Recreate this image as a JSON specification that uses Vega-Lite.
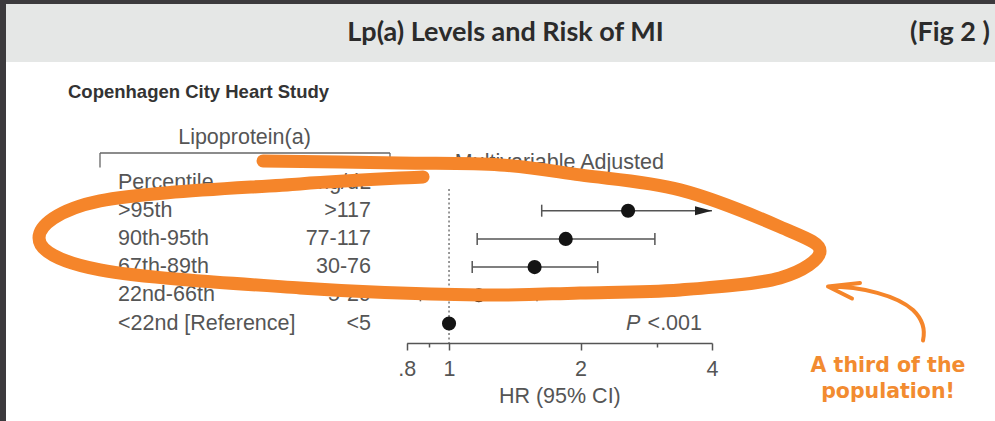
{
  "$schema": "https://vega.github.io/schema/vega-lite/v6.json",
  "background": "#3c3a3d",
  "padding": {"left": 6, "top": 4, "right": 0, "bottom": 0},
  "spacing": 0,
  "bounds": "flush",
  "config": {"view": {"stroke": null}},
  "vconcat": [
    {
      "width": 989,
      "height": 58,
      "view": {"fill": "#e5e7e6", "stroke": null},
      "data": {"values": [{}]},
      "layer": [
        {"mark": {"type": "text", "text": "Lp(a) Levels and Risk of MI", "font": "Lato", "fontWeight": "bold", "fontSize": 27, "fill": "#2b2b2b", "dx": 5}, "encoding": {}},
        {"mark": {"type": "text", "text": "(Fig 2 )", "font": "Lato", "fontWeight": "bold", "fontSize": 27, "fill": "#2b2b2b", "align": "right", "x": "width", "dx": -5}, "encoding": {}}
      ]
    },
    {
      "width": 989,
      "height": 359,
      "view": {"fill": "white", "stroke": null},
      "data": {"values": [
        {"pct": "Percentile", "mgdl": "mg/dL"},
        {"pct": ">95th", "mgdl": ">117", "hr": 2.57, "lo": 1.63, "hi": 4, "open": true},
        {"pct": "90th-95th", "mgdl": "77-117", "hr": 1.85, "lo": 1.16, "hi": 2.96, "open": false},
        {"pct": "67th-89th", "mgdl": "30-76", "hr": 1.57, "lo": 1.13, "hi": 2.19, "open": false},
        {"pct": "22nd-66th", "mgdl": "5-29", "hr": 1.17, "lo": 0.86, "hi": 1.59, "open": false},
        {"pct": "<22nd [Reference]", "mgdl": "<5", "hr": 1.0}
      ]},
      "resolve": {"scale": {"x": "independent"}},
      "layer": [
        {
          "layer": [
            {
              "mark": {"type": "text", "align": "left", "font": "Liberation Sans", "fontSize": 21.5, "fill": "#555555"},
              "encoding": {
                "x": {"datum": "Percentile", "type": "nominal", "bandPosition": 0, "axis": null,
                      "scale": {"type": "band", "domain": ["Percentile", "mg/dL"], "range": [112, 365], "paddingInner": 0, "paddingOuter": 0}},
                "y": {"field": "pct", "type": "nominal", "axis": null,
                      "scale": {"type": "point", "domain": ["Percentile", ">95th", "90th-95th", "67th-89th", "22nd-66th", "<22nd [Reference]"], "range": [120.5, 261.5], "padding": 0}},
                "text": {"field": "pct"}
              }
            },
            {
              "mark": {"type": "text", "align": "right", "font": "Liberation Sans", "fontSize": 21.5, "fill": "#555555"},
              "encoding": {
                "x": {"datum": "mg/dL", "type": "nominal", "bandPosition": 1, "axis": null},
                "y": {"field": "pct", "type": "nominal", "axis": null},
                "text": {"field": "mgdl"}
              }
            },
            {
              "data": {"values": [{}]},
              "mark": {"type": "text", "text": "Lipoprotein(a)", "align": "center", "dy": -44.5, "font": "Liberation Sans", "fontSize": 21.5, "fill": "#555555"},
              "encoding": {
                "x": {"datum": "Percentile", "type": "nominal", "bandPosition": 1, "axis": null},
                "y": {"datum": "Percentile", "type": "nominal", "axis": null}
              }
            },
            {
              "data": {"values": [{}]},
              "mark": {"type": "text", "text": "Copenhagen City Heart Study", "align": "left", "dx": -50, "dy": -90.5, "font": "Liberation Sans", "fontWeight": "bold", "fontSize": 18.5, "fill": "#333333"},
              "encoding": {
                "x": {"datum": "Percentile", "type": "nominal", "bandPosition": 0, "axis": null},
                "y": {"datum": "Percentile", "type": "nominal", "axis": null}
              }
            },
            {
              "data": {"values": [{}]},
              "mark": {"type": "rule", "stroke": "#666666", "strokeWidth": 1.3, "xOffset": -18, "x2Offset": 19, "yOffset": -29.5},
              "encoding": {
                "x": {"datum": "Percentile", "type": "nominal", "bandPosition": 0, "axis": null},
                "x2": {"datum": "mg/dL", "bandPosition": 1},
                "y": {"datum": "Percentile", "type": "nominal", "axis": null}
              }
            },
            {
              "data": {"values": [{}]},
              "mark": {"type": "rule", "stroke": "#666666", "strokeWidth": 1.3, "xOffset": -18, "yOffset": -29.5, "y2Offset": -15},
              "encoding": {
                "x": {"datum": "Percentile", "type": "nominal", "bandPosition": 0, "axis": null},
                "y": {"datum": "Percentile", "type": "nominal", "axis": null},
                "y2": {"datum": "Percentile"}
              }
            },
            {
              "data": {"values": [{}]},
              "mark": {"type": "rule", "stroke": "#666666", "strokeWidth": 1.3, "xOffset": 19, "yOffset": -29.5, "y2Offset": -15},
              "encoding": {
                "x": {"datum": "mg/dL", "type": "nominal", "bandPosition": 1, "axis": null},
                "y": {"datum": "Percentile", "type": "nominal", "axis": null},
                "y2": {"datum": "Percentile"}
              }
            }
          ]
        },
        {
          "layer": [
            {
              "data": {"values": [{}]},
              "mark": {"type": "rule", "stroke": "#777777", "strokeWidth": 1.5, "strokeDash": [2, 2.5], "yOffset": 6.5, "y2Offset": 19.5},
              "encoding": {
                "x": {"datum": 1, "type": "quantitative",
                      "scale": {"type": "log", "domain": [0.8, 4], "range": [400.7, 706], "nice": false, "zero": false},
                      "axis": {
                        "title": "HR (95% CI)", "orient": "bottom", "offset": -78, "grid": false,
                        "values": [0.8, 0.9, 1, 2, 3, 4],
                        "labelExpr": "datum.value === 0.8 ? '.8' : ((datum.value === 0.9 || datum.value === 3) ? '' : format(datum.value, 'd'))",
                        "domainColor": "#555555", "domainWidth": 1.5,
                        "tickColor": "#555555", "tickWidth": 1.5,
                        "tickSize": {"condition": {"test": "datum.value === 0.9 || datum.value === 3", "value": 4}, "value": 7},
                        "labelFont": "Liberation Sans", "labelFontSize": 21.5, "labelColor": "#555555", "labelPadding": 8,
                        "labelFlush": false, "labelOverlap": false,
                        "titleFont": "Liberation Sans", "titleFontSize": 21.5, "titleFontWeight": "normal", "titleColor": "#555555", "titlePadding": 6
                      }},
                "y": {"datum": "Percentile", "type": "nominal", "axis": null,
                      "scale": {"type": "point", "domain": ["Percentile", ">95th", "90th-95th", "67th-89th", "22nd-66th", "<22nd [Reference]"], "range": [120.5, 261.5], "padding": 0}},
                "y2": {"datum": "<22nd [Reference]"}
              }
            },
            {
              "transform": [{"filter": "datum.lo != null"}],
              "mark": {"type": "rule", "stroke": "#555555", "strokeWidth": 1.5},
              "encoding": {
                "x": {"field": "lo", "type": "quantitative"},
                "x2": {"field": "hi"},
                "y": {"field": "pct", "type": "nominal", "axis": null}
              }
            },
            {
              "transform": [{"filter": "datum.lo != null"}],
              "mark": {"type": "tick", "color": "#555555", "size": 12, "thickness": 1.5, "opacity": 1},
              "encoding": {
                "x": {"field": "lo", "type": "quantitative"},
                "y": {"field": "pct", "type": "nominal", "axis": null}
              }
            },
            {
              "transform": [{"filter": "datum.lo != null && !datum.open"}],
              "mark": {"type": "tick", "color": "#555555", "size": 12, "thickness": 1.5, "opacity": 1},
              "encoding": {
                "x": {"field": "hi", "type": "quantitative"},
                "y": {"field": "pct", "type": "nominal", "axis": null}
              }
            },
            {
              "transform": [{"filter": "datum.open === true"}],
              "mark": {"type": "point", "shape": "M 0 0 L -17 -4.5 L -17 4.5 Z", "size": 4, "filled": true, "fill": "#222222", "strokeWidth": 0, "opacity": 1},
              "encoding": {
                "x": {"field": "hi", "type": "quantitative"},
                "y": {"field": "pct", "type": "nominal", "axis": null}
              }
            },
            {
              "transform": [{"filter": "datum.hr != null"}],
              "mark": {"type": "point", "shape": "circle", "size": 200, "filled": true, "fill": "#141414", "strokeWidth": 0, "opacity": 1},
              "encoding": {
                "x": {"field": "hr", "type": "quantitative"},
                "y": {"field": "pct", "type": "nominal", "axis": null}
              }
            },
            {
              "data": {"values": [{}]},
              "mark": {"type": "text", "text": "Multivariable Adjusted", "align": "center", "dy": -19.5, "font": "Liberation Sans", "fontSize": 21.5, "fill": "#555555"},
              "encoding": {
                "x": {"datum": 1.789, "type": "quantitative"},
                "y": {"datum": "Percentile", "type": "nominal", "axis": null}
              }
            },
            {
              "data": {"values": [{}]},
              "mark": {"type": "text", "text": "P", "align": "left", "dx": -86, "font": "Liberation Sans", "fontStyle": "italic", "fontSize": 21.5, "fill": "#555555"},
              "encoding": {
                "x": {"datum": 4, "type": "quantitative"},
                "y": {"datum": "<22nd [Reference]", "type": "nominal", "axis": null}
              }
            },
            {
              "data": {"values": [{}]},
              "mark": {"type": "text", "text": "<.001", "align": "right", "dx": -10, "font": "Liberation Sans", "fontSize": 21.5, "fill": "#555555"},
              "encoding": {
                "x": {"datum": 4, "type": "quantitative"},
                "y": {"datum": "<22nd [Reference]", "type": "nominal", "axis": null}
              }
            },
            {
              "data": {"values": [{}]},
              "mark": {"type": "point", "size": 4, "filled": false, "stroke": "#f5852a", "strokeWidth": 13, "strokeCap": "round", "strokeJoin": "round", "opacity": 1,
                "shape": "M -186 -78 C -163.3 -77.7 -89.5 -76.7 -50 -76 C -10.5 -75.3 20.8 -76 51 -74 C 81.2 -72 101 -68.2 131 -64 C 161 -59.8 197.7 -57.7 231 -49 C 264.3 -40.3 307.7 -22.2 331 -12 C 354.3 -1.8 371 3.5 371 12 C 371 20.5 354.3 32.5 331 39 C 307.7 45.5 264.3 48.5 231 51 C 197.7 53.5 164.3 53.2 131 54 C 97.7 54.8 77.7 56.8 31 56 C -15.7 55.2 -85.7 53.2 -149 49 C -212.3 44.8 -305.5 39.3 -349 31 C -392.5 22.7 -410 10.5 -410 -1 C -410 -12.5 -392.5 -29 -349 -38 C -305.5 -47 -202.8 -51 -149 -55 C -95.2 -59 -46.5 -60.8 -26 -62"},
              "encoding": {
                "x": {"datum": 1, "type": "quantitative"},
                "y": {"datum": "90th-95th", "type": "nominal", "axis": null}
              }
            },
            {
              "data": {"values": [{}]},
              "mark": {"type": "point", "size": 4, "filled": false, "stroke": "#f5852a", "strokeWidth": 4, "strokeCap": "round", "strokeJoin": "round", "opacity": 1,
                "shape": "M 116 -37 C 150 -37 185 -28 201 -13.5 C 212 -3 213 8 211 17 M 148 -40.5 L 116 -37 L 140 -25"},
              "encoding": {
                "x": {"datum": 4, "type": "quantitative"},
                "y": {"datum": "<22nd [Reference]", "type": "nominal", "axis": null}
              }
            },
            {
              "data": {"values": [{}]},
              "mark": {"type": "text", "text": ["A third of the", "population!"], "align": "center", "baseline": "alphabetic", "lineHeight": 26, "dx": 176, "dy": 48.5, "font": "DejaVu Sans", "fontWeight": "bold", "fontSize": 20.5, "fill": "#f28b30"},
              "encoding": {
                "x": {"datum": 4, "type": "quantitative"},
                "y": {"datum": "<22nd [Reference]", "type": "nominal", "axis": null}
              }
            }
          ]
        }
      ]
    }
  ]
}
